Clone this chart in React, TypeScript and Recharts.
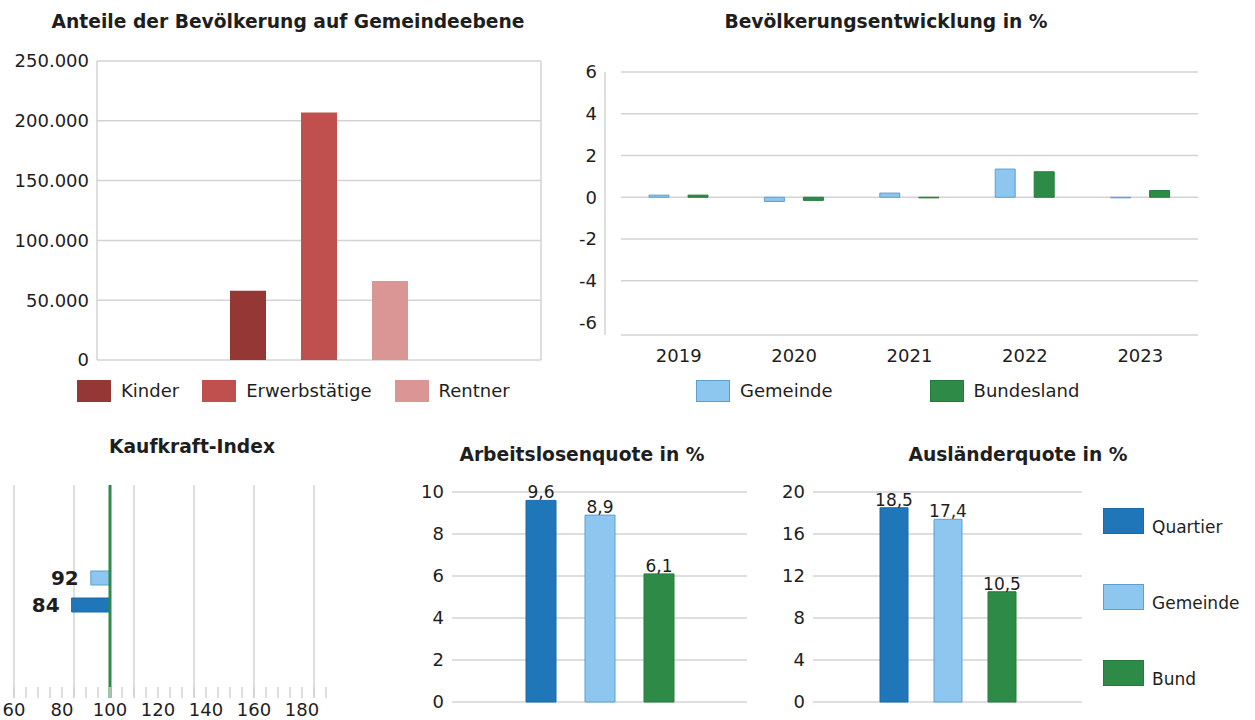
import React from 'react';
import { BarChart, Bar, XAxis, YAxis, CartesianGrid, ReferenceLine, LabelList } from 'recharts';

const FONT = '"DejaVu Sans", Verdana, sans-serif';
const GRID = '#d3d3d3';
const TEXT = '#1e1e1e';

// Anteile der Bevölkerung auf Gemeindeebene
const popGroups = ['Kinder', 'Erwerbstätige', 'Rentner'];
const popValues = [58000, 207000, 66000];
const popTicks = [0, 50000, 100000, 150000, 200000, 250000];

// Bevölkerungsentwicklung in %
const devYears = ['2019', '2020', '2021', '2022', '2023'];
const devGemeinde = [0.1, -0.2, 0.2, 1.35, -0.03];
const devBundesland = [0.1, -0.15, -0.03, 1.22, 0.32];
const devTicks = [-6, -4, -2, 0, 2, 4, 6];
const devGrid = [-6.6, -4, -2, 0, 2, 4, 6];

// Kaufkraft-Index
const kkSeries = ['Gemeinde', 'Quartier'];
const kkValues = [92, 84];
const kkBase = 100;
const kkTicks = [60, 80, 100, 120, 140, 160, 180];
const kkGrid = [60, 85, 110, 135, 160, 185];
const kkMinor = [60, 65, 70, 75, 80, 85, 90, 95, 100, 105, 110, 115, 120, 125, 130, 135, 140, 145, 150, 155, 160, 165, 170, 175, 180, 185, 190];

// Arbeitslosenquote / Ausländerquote
const areas = ['Quartier', 'Gemeinde', 'Bund'];
const alqValues = [9.6, 8.9, 6.1];
const alqTicks = [0, 2, 4, 6, 8, 10];
const auqValues = [18.5, 17.4, 10.5];
const auqTicks = [0, 4, 8, 12, 16, 20];

const popColors: Record<string, string> = {
  Kinder: '#953735',
  Erwerbstätige: '#C0504D',
  Rentner: '#D99694',
};
const areaFill: Record<string, string> = {
  Quartier: '#1F77B9',
  Gemeinde: '#8DC6EE',
  Bund: '#2E8B47',
  Bundesland: '#2E8B47',
};
const areaStroke: Record<string, string> = {
  Quartier: '#1b6aa6',
  Gemeinde: '#5f9fcf',
  Bund: '#267a3d',
  Bundesland: '#267a3d',
};

const fmtThousands = (v: number) => String(v).replace(/\B(?=(\d{3})+(?!\d))/g, '.');
const fmtComma = (v: number) => v.toFixed(1).replace('.', ',');

const tickStyle = { fontSize: 18, fill: TEXT, fontFamily: FONT };

function Title({ x, y, children }: { x: number; y: number; children: React.ReactNode }) {
  return (
    <div
      style={{
        position: 'absolute',
        left: x,
        top: y,
        transform: 'translate(-50%, -50%)',
        whiteSpace: 'nowrap',
        fontWeight: 'bold',
        fontSize: 18.7,
        lineHeight: '20px',
        color: TEXT,
      }}
    >
      {children}
    </div>
  );
}

function Swatch({ color, border, w, h }: { color: string; border?: string; w: number; h: number }) {
  return (
    <span
      style={{
        display: 'inline-block',
        width: w,
        height: h,
        background: color,
        boxSizing: 'border-box',
        border: border ? `1px solid ${border}` : 'none',
      }}
    />
  );
}

function LegendRow({
  names,
  fills,
  strokes,
  left,
  top,
  gaps,
}: {
  names: string[];
  fills: Record<string, string>;
  strokes?: Record<string, string>;
  left: number;
  top: number;
  gaps: number[];
}) {
  return (
    <div style={{ position: 'absolute', left, top, display: 'flex', alignItems: 'center' }}>
      {names.map((n, i) => (
        <div key={n} style={{ display: 'flex', alignItems: 'center', marginRight: gaps[i] ?? 0 }}>
          <Swatch color={fills[n]} border={strokes?.[n]} w={34} h={22} />
          <span style={{ fontSize: 18, marginLeft: 10, color: TEXT, lineHeight: '22px' }}>{n}</span>
        </div>
      ))}
    </div>
  );
}

function PopulationChart() {
  const row: Record<string, number | string> = { name: 'Gemeinde' };
  popGroups.forEach((g, i) => (row[g] = popValues[i]));
  return (
    <div style={{ position: 'absolute', left: 0, top: 40 }}>
      <BarChart
        width={560}
        height={335}
        data={[row]}
        margin={{ top: 21, right: 19, bottom: 15, left: 0 }}
        barSize={36}
        barGap={35}
      >
        <CartesianGrid
          stroke={GRID}
          strokeWidth={1.5}
          verticalCoordinatesGenerator={(p: any) =>
            p && p.offset ? [p.offset.left, p.offset.left + p.offset.width] : []
          }
        />
        <XAxis dataKey="name" hide />
        <YAxis
          width={97}
          domain={[0, 250000]}
          ticks={popTicks}
          tickFormatter={fmtThousands}
          tickLine={false}
          axisLine={false}
          tick={tickStyle}
          interval={0}
        />
        {popGroups.map((g) => (
          <Bar key={g} dataKey={g} fill={popColors[g]} isAnimationActive={false} />
        ))}
      </BarChart>
    </div>
  );
}

function DevelopmentChart() {
  const data = devYears.map((y, i) => ({ year: y, Gemeinde: devGemeinde[i], Bundesland: devBundesland[i] }));
  return (
    <div style={{ position: 'absolute', left: 560, top: 40 }}>
      <BarChart
        width={695}
        height={335}
        data={data}
        margin={{ top: 32, right: 57, bottom: 10, left: 0 }}
        barSize={20}
        barGap={19}
      >
        <CartesianGrid
          stroke={GRID}
          strokeWidth={1.5}
          vertical={false}
          horizontalValues={devGrid}
          x={61}
          width={577}
        />
        <XAxis
          dataKey="year"
          height={30}
          padding={{ left: 16, right: 0 }}
          tickLine={false}
          axisLine={false}
          tick={tickStyle}
          tickMargin={8}
          interval={0}
        />
        <YAxis
          width={45}
          type="number"
          domain={[-6.6, 6]}
          ticks={devTicks}
          tickLine={false}
          axisLine={{ stroke: GRID, strokeWidth: 1.5 }}
          tick={tickStyle}
          interval={0}
        />
        {['Gemeinde', 'Bundesland'].map((s) => (
          <Bar key={s} dataKey={s} fill={areaFill[s]} stroke={areaStroke[s]} isAnimationActive={false} />
        ))}
      </BarChart>
    </div>
  );
}

function KkTick(p: any) {
  const v = p.payload.value;
  return (
    <g>
      <line x1={p.x} x2={p.x} y1={p.y - 11} y2={p.y} stroke={GRID} strokeWidth={1.5} />
      {kkTicks.includes(v) && (
        <text x={p.x} y={p.y + 5} dy="0.71em" textAnchor="middle" fontSize={18} fill={TEXT}>
          {v}
        </text>
      )}
    </g>
  );
}

function KaufkraftChart() {
  const row: Record<string, any> = { name: 'Kaufkraft' };
  kkSeries.forEach((s, i) => (row[s] = [kkValues[i], kkBase]));
  return (
    <div style={{ position: 'absolute', left: 0, top: 470 }}>
      <BarChart
        width={340}
        height={250}
        layout="vertical"
        data={[row]}
        margin={{ top: 15, right: 14, bottom: 0, left: 14 }}
        barSize={14}
        barGap={13}
      >
        <CartesianGrid stroke={GRID} strokeWidth={1.5} horizontal={false} verticalValues={kkGrid} />
        <XAxis
          type="number"
          domain={[60, 190]}
          ticks={kkMinor}
          interval={0}
          height={22}
          tickLine={false}
          axisLine={false}
          tickSize={0}
          tickMargin={0}
          tick={<KkTick />}
          allowDataOverflow
        />
        <YAxis type="category" dataKey="name" hide />
        {kkSeries.map((s, i) => (
          <Bar
            key={s}
            dataKey={s}
            fill={areaFill[s]}
            stroke={areaStroke[s]}
            isAnimationActive={false}
            label={(p: any) => (
              <text
                x={p.x - 12}
                y={p.y + p.height / 2}
                textAnchor="end"
                dominantBaseline="central"
                fontSize={20}
                fontWeight="bold"
                fill={TEXT}
              >
                {kkValues[i]}
              </text>
            )}
          />
        ))}
        <ReferenceLine x={kkBase} stroke="#2E8B47" strokeWidth={3} />
      </BarChart>
    </div>
  );
}

function QuoteChart({
  values,
  ticks,
  left,
  width,
  axisWidth,
  barSize,
  barGap,
}: {
  values: number[];
  ticks: number[];
  left: number;
  width: number;
  axisWidth: number;
  barSize: number;
  barGap: number;
}) {
  const row: Record<string, number | string> = { name: 'Quote' };
  areas.forEach((a, i) => (row[a] = values[i]));
  return (
    <div style={{ position: 'absolute', left, top: 470 }}>
      <BarChart
        width={width}
        height={250}
        data={[row]}
        margin={{ top: 22, right: 0, bottom: 18, left: 0 }}
        barSize={barSize}
        barGap={barGap}
      >
        <CartesianGrid stroke={GRID} strokeWidth={1.5} vertical={false} />
        <XAxis dataKey="name" hide />
        <YAxis
          width={axisWidth}
          domain={[ticks[0], ticks[ticks.length - 1]]}
          ticks={ticks}
          interval={0}
          tickLine={false}
          axisLine={false}
          tick={tickStyle}
        />
        {areas.map((a) => (
          <Bar key={a} dataKey={a} fill={areaFill[a]} stroke={areaStroke[a]} isAnimationActive={false}>
            <LabelList dataKey={a} position="top" offset={2} formatter={fmtComma} fontSize={17} fill={TEXT} />
          </Bar>
        ))}
      </BarChart>
    </div>
  );
}

export default function App() {
  return (
    <div
      style={{
        position: 'absolute',
        left: 0,
        top: 0,
        width: 1255,
        height: 720,
        background: '#fff',
        fontFamily: FONT,
        color: TEXT,
        overflow: 'hidden',
      }}
    >
      <Title x={288} y={22}>Anteile der Bevölkerung auf Gemeindeebene</Title>
      <PopulationChart />
      <LegendRow names={popGroups} fills={popColors} left={77} top={380} gaps={[23, 23, 0]} />

      <Title x={886} y={22}>Bevölkerungsentwicklung in %</Title>
      <DevelopmentChart />
      <LegendRow
        names={['Gemeinde', 'Bundesland']}
        fills={areaFill}
        strokes={areaStroke}
        left={696}
        top={380}
        gaps={[97, 0]}
      />

      <Title x={192} y={447}>Kaufkraft-Index</Title>
      <KaufkraftChart />

      <Title x={582} y={455}>Arbeitslosenquote in %</Title>
      <QuoteChart values={alqValues} ticks={alqTicks} left={400} width={347} axisWidth={52} barSize={30} barGap={29} />

      <Title x={1018} y={455}>Ausländerquote in %</Title>
      <QuoteChart values={auqValues} ticks={auqTicks} left={770} width={312} axisWidth={43} barSize={28} barGap={26} />

      <div style={{ position: 'absolute', left: 1103, top: 508 }}>
        {areas.map((a) => (
          <div key={a} style={{ display: 'flex', alignItems: 'flex-start', height: 76 }}>
            <Swatch color={areaFill[a]} border={areaStroke[a]} w={41} h={26} />
            <span style={{ fontSize: 17, marginLeft: 8, marginTop: 9, lineHeight: '20px', color: TEXT }}>{a}</span>
          </div>
        ))}
      </div>
    </div>
  );
}
